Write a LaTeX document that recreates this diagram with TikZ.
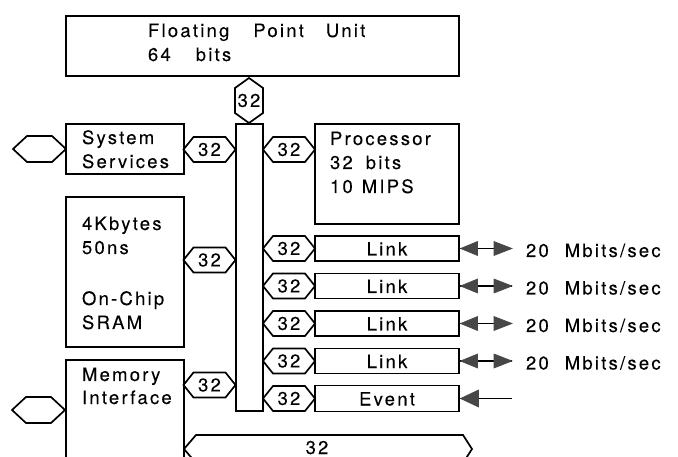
\documentclass[tikz,border=0pt]{standalone}
\usepackage{fontspec}
\newfontfamily\lsfont[LetterSpace=12, UprightFeatures={FakeBold=0.08}]{TeX Gyre Heros}
\definecolor{arrowgray}{gray}{0.28}
\newcommand\hhex[3]{%
  \node[hexlbl] (#1) at (#2) {#3};
  \draw[line] (#1.center) ++(-26,0) -- ++(10,-12.5) -- ++(32,0) -- ++(10,12.5) -- ++(-10,12.5) -- ++(-32,0) -- cycle;}
\newcommand\ehex[2]{%
  \coordinate (#1) at (#2);
  \draw[line] (#1) ++(-26.5,0) -- ++(14,-13) -- ++(25,0) -- ++(14,13) -- ++(-14,13) -- ++(-25,0) -- cycle;}
\begin{document}
\begin{tikzpicture}[x=1pt,y=-1pt,
  line/.style={line width=1.7pt, draw=black, line join=miter},
  box/.style={line, rectangle, anchor=north west, inner sep=0pt, outer sep=0pt},
  txt/.style={anchor=base west, inner sep=0pt, outer sep=0pt, font=\lsfont\fontsize{18.5}{22}\selectfont},
  ctxt/.style={anchor=base, inner sep=0pt, outer sep=0pt, font=\lsfont\fontsize{18.5}{22}\selectfont},
  hexlbl/.style={anchor=center, inner sep=0pt, outer sep=0pt, font=\lsfont\fontsize{18.5}{22}\selectfont},
  conn/.style={line width=1.8pt, draw=black},
  head/.style={fill=arrowgray, draw=arrowgray, line width=0.6pt, line join=miter},
]
\useasboundingbox (0,0) rectangle (678,457);
\clip (0,0) rectangle (678,457);
\fill[white] (0,0) rectangle (678,457);

% Floating point unit
\node[box, minimum width=393pt, minimum height=60pt] (fpu) at (66,16) {};
\node[txt] (fpu1) at (148,37) {Floating\hspace{24pt}Point\hspace{22pt}Unit};
\node[txt] (fpu2) at (148,61) {64\hspace{25pt}bits};
\node[hexlbl] (fpuhex) at (249,100.5) {32};
\draw[line] (fpuhex.center) ++(0,-22.5) -- ++(14,10) -- ++(0,25) -- ++(-14,10) -- ++(-14,-10) -- ++(0,-25) -- cycle;

% central bus
\node[box, minimum width=27pt, minimum height=287pt] (bus) at (236,124) {};

% system services
\node[box, minimum width=118pt, minimum height=50pt] (ss) at (66,124) {};
\node[txt] (ss1) at (82,144) {System};
\node[txt] (ss2) at (82,168) {Services};
\ehex{ssx}{39.5,149}
\hhex{ssh}{209.5,149.5}{32}

% processor
\hhex{proch}{289,149.5}{32}
\node[box, minimum width=144pt, minimum height=100pt] (proc) at (315,124) {};
\node[txt] (p1) at (330,145) {Processor};
\node[txt] (p2) at (330,169) {32\hspace{13pt}bits};
\node[txt] (p3) at (330,193) {10\hspace{9pt}MIPS};

% SRAM
\node[box, minimum width=118pt, minimum height=150pt] (sram) at (66,197) {};
\node[txt] (s1) at (82,230) {4Kbytes};
\node[txt] (s2) at (82,254) {50ns};
\node[txt] (s3) at (82,305) {On-Chip};
\node[txt] (s4) at (82,329) {SRAM};
\hhex{sramh}{209.5,260}{32}

% memory interface
\node[box, minimum width=118pt, minimum height=130pt] (mi) at (66,360) {};
\node[txt] (m1) at (82,381) {Memory};
\node[txt] (m2) at (82,404) {Interface};
\ehex{mix}{38.5,410}
\hhex{mih}{209.5,385}{32}

% links and event
\foreach \n/\cy in {1/248.5,2/286,3/323.5,4/361}{
  \hhex{lh\n}{289,\cy}{32}
  \node[box, minimum width=144pt, minimum height=25pt, anchor=west] (link\n) at (315,\cy) {};
  \node[ctxt] (lt\n) at (387,\cy+7) {Link};
  \coordinate (ln\n) at (512,\cy);
  \draw[conn] (link\n.east) -- (ln\n);
  \path[head] (link\n.east) ++(1.5,0) -- ++(17,-7) -- ++(0,14) -- cycle;
  \path[head] (ln\n) -- ++(-18,-7) -- ++(0,14) -- cycle;
  \node[txt] (rate\n) at (526,\cy+8.5) {20\hspace{16pt}Mbits/sec};
}
\hhex{evh}{289,398.5}{32}
\node[box, minimum width=144pt, minimum height=26pt, anchor=west] (event) at (315,398.5) {};
\node[ctxt] (evt) at (387,405.5) {Event};
\coordinate (evin) at (512,398.5);
\draw[conn] (evin) -- (event.east);
\path[head] (event.east) ++(1.5,0) -- ++(18,-8.5) -- ++(0,17) -- cycle;

% bottom bus
\node[ctxt] (bot) at (317,454) {32};
\draw[line] (mi.east |- 0,449) -- (196,435) -- (463,435) -- (472,449) -- (463,463) -- (196,463) -- cycle;
\end{tikzpicture}
\end{document}
